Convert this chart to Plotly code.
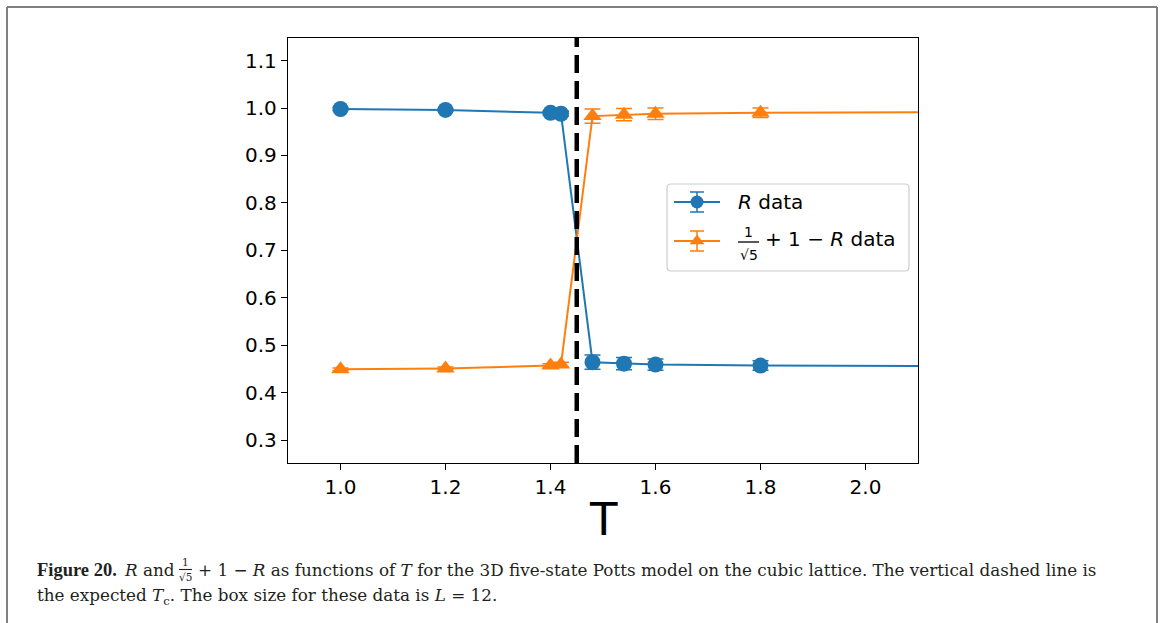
import plotly.graph_objects as go

# Temperatures and measured ratios
T = [1.0, 1.2, 1.4, 1.42, 1.48, 1.54, 1.6, 1.8, 2.4]
R = [0.998, 0.996, 0.990, 0.988, 0.464, 0.461, 0.459, 0.457, 0.455]
R_err = [0.003, 0.003, 0.004, 0.005, 0.015, 0.013, 0.012, 0.010, 0.008]
S = [0.449, 0.451, 0.457, 0.459, 0.983, 0.986, 0.988, 0.990, 0.992]
S_err = [0.003, 0.003, 0.004, 0.005, 0.015, 0.013, 0.012, 0.010, 0.008]
TC = 1.45

X_TICKS = [1.0, 1.2, 1.4, 1.6, 1.8, 2.0]
Y_TICKS = [0.3, 0.4, 0.5, 0.6, 0.7, 0.8, 0.9, 1.0, 1.1]

BLUE = "#1f77b4"
ORANGE = "#ff7f0e"

# plot area in page pixels
L, Rr, TOP, BOT = 288, 918, 38, 463
W, H = 1163, 623


def px(x):
    return (x - L) / (Rr - L)


def py(y):
    return (BOT - y) / (BOT - TOP)


fig = go.Figure()

fig.add_trace(go.Scatter(
    x=T, y=R, mode="lines+markers",
    line=dict(color=BLUE, width=2),
    marker=dict(symbol="circle", size=16, color=BLUE),
    error_y=dict(type="data", array=R_err, color=BLUE, thickness=1.5, width=8),
    showlegend=False, hoverinfo="skip",
))
fig.add_trace(go.Scatter(
    x=T, y=S, mode="lines+markers",
    line=dict(color=ORANGE, width=2),
    marker=dict(symbol="triangle-up", size=16, color=ORANGE),
    error_y=dict(type="data", array=S_err, color=ORANGE, thickness=1.5, width=8),
    showlegend=False, hoverinfo="skip",
))

# legend glyphs, drawn on a pixel-based overlay axis
LEG_ROWS = [202, 241]
for yrow, col, sym in [(LEG_ROWS[0], BLUE, "circle"), (LEG_ROWS[1], ORANGE, "triangle-up")]:
    fig.add_trace(go.Scatter(
        x=[674, 720], y=[yrow, yrow], mode="lines",
        line=dict(color=col, width=2), xaxis="x2", yaxis="y2",
        showlegend=False, hoverinfo="skip",
    ))
    fig.add_trace(go.Scatter(
        x=[697], y=[yrow], mode="markers",
        marker=dict(symbol=sym, size=13, color=col),
        error_y=dict(type="data", array=[10], color=col, thickness=1.5, width=7),
        xaxis="x2", yaxis="y2", showlegend=False, hoverinfo="skip",
    ))

shapes = [
    # expected critical temperature
    dict(type="line", xref="x", yref="paper", x0=TC, x1=TC, y0=0, y1=1,
         line=dict(color="black", width=4.5, dash="18px,8px"), layer="above"),
    # legend frame
    dict(type="path", xref="x2", yref="y2",
         path="M 671 184 L 905 184 Q 909 184 909 188 L 909 267 Q 909 271 905 271 "
              "L 671 271 Q 667 271 667 267 L 667 188 Q 667 184 671 184 Z",
         line=dict(color="#cccccc", width=1.2), fillcolor="rgba(255,255,255,0.8)",
         layer="below"),
    # page frame
    dict(type="line", xref="paper", yref="paper", x0=px(7), x1=px(1157), y0=py(7), y1=py(7),
         line=dict(color="#808080", width=2)),
    dict(type="line", xref="paper", yref="paper", x0=px(7), x1=px(7), y0=py(7), y1=py(W),
         line=dict(color="#808080", width=2)),
    dict(type="line", xref="paper", yref="paper", x0=px(1157), x1=px(1157), y0=py(7), y1=py(W),
         line=dict(color="#808080", width=2)),
    # fraction bar in the legend
    dict(type="line", xref="x2", yref="y2", x0=738, x1=759, y0=242, y1=242,
         line=dict(color="black", width=1.3)),
    # fraction bar in the caption
    dict(type="line", xref="paper", yref="paper", x0=px(179), x1=px(192), y0=py(569.5), y1=py(569.5),
         line=dict(color="#231f20", width=1.1)),
]

SANS = "DejaVu Sans"
SERIF = "DejaVu Serif"
BOLD_SERIF = "Liberation Serif"
CAP_COL = "#231f20"
CAP_SIZE = 16.8

annotations = [
    # legend labels
    dict(xref="x2", yref="y2", x=736, y=LEG_ROWS[0], text="<i>R</i> data", showarrow=False,
         xanchor="left", yanchor="middle", font=dict(family=SANS, size=20, color="black")),
    dict(xref="x2", yref="y2", x=748.5, y=232, text="1", showarrow=False,
         xanchor="center", yanchor="middle", font=dict(family=SANS, size=14, color="black")),
    dict(xref="x2", yref="y2", x=748.5, y=255, text="√5", showarrow=False,
         xanchor="center", yanchor="middle", font=dict(family=SANS, size=14, color="black")),
    dict(xref="x2", yref="y2", x=763, y=239, text="+ 1 − <i>R</i> data", showarrow=False,
         xanchor="left", yanchor="middle", font=dict(family=SANS, size=20, color="black")),
    # axis title
    dict(xref="paper", yref="paper", x=0.5, y=py(519), text="T", showarrow=False,
         xanchor="center", yanchor="middle", font=dict(family=SANS, size=45, color="black")),
    # caption
    dict(xref="paper", yref="paper", x=px(35), y=py(570), text="<b>Figure 20.</b>", showarrow=False,
         xanchor="left", yanchor="middle", font=dict(family=BOLD_SERIF, size=18.5, color=CAP_COL)),
    dict(xref="paper", yref="paper", x=px(177), y=py(570), text="<i>R</i> and", showarrow=False,
         xanchor="right", yanchor="middle", font=dict(family=SERIF, size=CAP_SIZE, color=CAP_COL)),
    dict(xref="paper", yref="paper", x=px(185.5), y=py(562), text="1", showarrow=False,
         xanchor="center", yanchor="middle", font=dict(family=SERIF, size=10.5, color=CAP_COL)),
    dict(xref="paper", yref="paper", x=px(185.5), y=py(577), text="√5", showarrow=False,
         xanchor="center", yanchor="middle", font=dict(family=SERIF, size=10.5, color=CAP_COL)),
    dict(xref="paper", yref="paper", x=px(196), y=py(570),
         text="+ 1 − <i>R</i> as functions of <i>T</i> for the 3D five-state Potts model on the "
              "cubic lattice. The vertical dashed line is",
         showarrow=False, xanchor="left", yanchor="middle",
         font=dict(family=SERIF, size=CAP_SIZE, color=CAP_COL)),
    dict(xref="paper", yref="paper", x=px(35), y=py(596),
         text="the expected <i>T</i><sub>c</sub>. The box size for these data is <i>L</i> = 12.",
         showarrow=False, xanchor="left", yanchor="middle",
         font=dict(family=SERIF, size=CAP_SIZE, color=CAP_COL)),
]

axis_common = dict(
    showgrid=False, zeroline=False, showline=True, linecolor="black", linewidth=1.3,
    mirror=True, ticks="outside", ticklen=6, tickwidth=1.3, tickcolor="black",
    tickfont=dict(family=SANS, size=20, color="black"),
)

fig.update_layout(
    width=W, height=H,
    margin=dict(l=L, r=W - Rr, t=TOP, b=H - BOT, pad=0),
    paper_bgcolor="white", plot_bgcolor="white",
    showlegend=False,
    xaxis=dict(range=[0.9, 2.1], tickvals=X_TICKS, ticktext=[f"{v:.1f}" for v in X_TICKS],
               **axis_common),
    yaxis=dict(range=[0.2515, 1.1477], tickvals=Y_TICKS, ticktext=[f"{v:.1f}" for v in Y_TICKS],
               **axis_common),
    xaxis2=dict(overlaying="x", range=[L, Rr], visible=False, fixedrange=True),
    yaxis2=dict(overlaying="y", range=[BOT, TOP], visible=False, fixedrange=True),
    shapes=shapes,
    annotations=annotations,
)

fig.write_html("out.html")
